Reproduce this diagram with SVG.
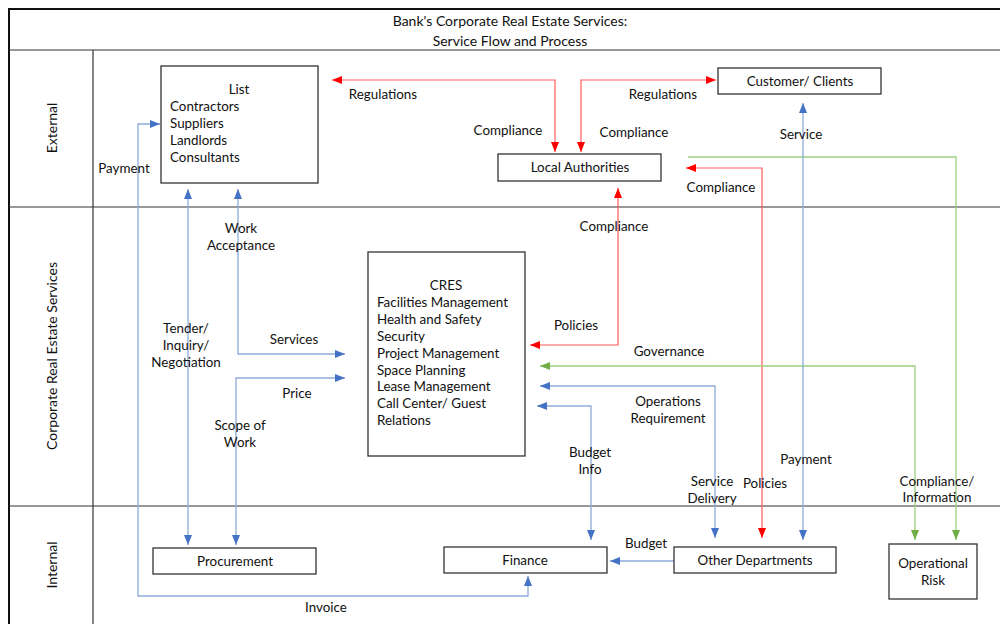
<svg xmlns="http://www.w3.org/2000/svg" width="1000" height="624" viewBox="0 0 1000 624">
<style>
text{font-family:Lato,"Liberation Sans",sans-serif;font-size:13.4px;fill:#111}
.c{text-anchor:middle}
.t{font-size:14px}
.box{fill:#fff;stroke:#333;stroke-width:1.3}
.lane{stroke:#333;stroke-width:1.2;fill:none}
.b{fill:none;stroke:#8eaadb;stroke-width:1.3}
.r{fill:none;stroke:#ff5a5a;stroke-width:1.2}
.g{fill:none;stroke:#9fcf7f;stroke-width:1.3}
</style>
<defs>
<marker id="ab" markerUnits="userSpaceOnUse" markerWidth="10" markerHeight="10" viewBox="0 0 10 10" refX="10" refY="5" orient="auto-start-reverse"><path d="M0,1 L10,5 L0,9 Z" fill="#4472c4"/></marker>
<marker id="ar" markerUnits="userSpaceOnUse" markerWidth="10" markerHeight="10" viewBox="0 0 10 10" refX="10" refY="5" orient="auto-start-reverse"><path d="M0,1 L10,5 L0,9 Z" fill="#ff0000"/></marker>
<marker id="ag" markerUnits="userSpaceOnUse" markerWidth="10" markerHeight="10" viewBox="0 0 10 10" refX="10" refY="5" orient="auto-start-reverse"><path d="M0,1 L10,5 L0,9 Z" fill="#70ad47"/></marker>
</defs>
<rect width="1000" height="624" fill="#fff"/>
<g id="frame">
<rect x="9" y="9" width="1010" height="640" fill="none" stroke="#111" stroke-width="2"/>
<line class="lane" x1="9" y1="50" x2="1000" y2="50"/>
<line class="lane" x1="93" y1="50" x2="93" y2="624"/>
<line class="lane" x1="9" y1="207" x2="1000" y2="207"/>
<line class="lane" x1="9" y1="506" x2="1000" y2="506"/>
<text class="c t" x="510" y="26">Bank's Corporate Real Estate Services:</text>
<text class="c t" x="510" y="46">Service Flow and Process</text>
<text class="c t" transform="translate(57,128) rotate(-90)">External</text>
<text class="c t" transform="translate(57,356) rotate(-90)">Corporate Real Estate Services</text>
<text class="c t" transform="translate(57,565) rotate(-90)">Internal</text>
</g>
<g id="connectors">
<path class="r" d="M332,80 H555 V152" marker-start="url(#ar)" marker-end="url(#ar)"/>
<path class="r" d="M581,152 V80 H716" marker-start="url(#ar)" marker-end="url(#ar)"/>
<path class="r" d="M762,538 V168 H686" marker-start="url(#ar)" marker-end="url(#ar)"/>
<path class="r" d="M618,188 V345 H530" marker-start="url(#ar)" marker-end="url(#ar)"/>
<path class="g" d="M688,157 H956 V540" marker-end="url(#ag)"/>
<path class="g" d="M540,366 H915 V540" marker-start="url(#ag)" marker-end="url(#ag)"/>
<path class="b" d="M803,103 V540" marker-start="url(#ab)" marker-end="url(#ab)"/>
<path class="b" d="M540,386 H715 V538" marker-start="url(#ab)" marker-end="url(#ab)"/>
<path class="b" d="M537,406 H591 V540" marker-start="url(#ab)" marker-end="url(#ab)"/>
<path class="b" d="M674,561 H610" marker-end="url(#ab)"/>
<path class="b" d="M160,124 H138 V596 H528 V576" marker-start="url(#ab)" marker-end="url(#ab)"/>
<path class="b" d="M188,189 V545" marker-start="url(#ab)" marker-end="url(#ab)"/>
<path class="b" d="M238,189 V354 H345" marker-start="url(#ab)" marker-end="url(#ab)"/>
<path class="b" d="M345,378 H236 V545" marker-start="url(#ab)" marker-end="url(#ab)"/>
<text class="c" x="383" y="99">Regulations</text>
<text class="c" x="508" y="135">Compliance</text>
<text class="c" x="663" y="99">Regulations</text>
<text class="c" x="634" y="137">Compliance</text>
<text class="c" x="721" y="192">Compliance</text>
<text class="c" x="765" y="488">Policies</text>
<text class="c" x="614" y="231">Compliance</text>
<text class="c" x="576" y="330">Policies</text>
<text class="c" x="669" y="356">Governance</text>
<text class="c" x="937" y="486">Compliance/</text>
<text class="c" x="937" y="502">Information</text>
<text class="c" x="801" y="139">Service</text>
<text class="c" x="806" y="464">Payment</text>
<text class="c" x="668" y="406">Operations</text>
<text class="c" x="668" y="423">Requirement</text>
<text class="c" x="712" y="486">Service</text>
<text class="c" x="712" y="503">Delivery</text>
<text class="c" x="590" y="457">Budget</text>
<text class="c" x="590" y="474">Info</text>
<text class="c" x="646" y="548">Budget</text>
<text class="c" x="124" y="173">Payment</text>
<text class="c" x="326" y="612">Invoice</text>
<text class="c" x="186" y="333">Tender/</text>
<text class="c" x="186" y="350">Inquiry/</text>
<text class="c" x="186" y="367">Negotiation</text>
<text class="c" x="241" y="233">Work</text>
<text class="c" x="241" y="250">Acceptance</text>
<text class="c" x="294" y="344">Services</text>
<text class="c" x="297" y="398">Price</text>
<text class="c" x="240" y="430">Scope of</text>
<text class="c" x="240" y="447">Work</text>
</g>
<g id="list">
<rect class="box" x="161" y="66" width="157" height="117"/>
<text class="c" x="239" y="94">List</text>
<text x="170" y="111">Contractors</text>
<text x="170" y="128">Suppliers</text>
<text x="170" y="145">Landlords</text>
<text x="170" y="162">Consultants</text>
</g>
<g id="customer">
<rect class="box" x="718" y="68" width="163" height="26"/>
<text class="c" x="800" y="86">Customer/ Clients</text>
</g>
<g id="local-authorities">
<rect class="box" x="498" y="154" width="163" height="27"/>
<text class="c" x="580" y="172">Local Authorities</text>
</g>
<g id="cres">
<rect class="box" x="368" y="252" width="157" height="204"/>
<text class="c" x="446" y="290">CRES</text>
<text x="377" y="307">Facilities Management</text>
<text x="377" y="324">Health and Safety</text>
<text x="377" y="341">Security</text>
<text x="377" y="358">Project Management</text>
<text x="377" y="375">Space Planning</text>
<text x="377" y="391">Lease Management</text>
<text x="377" y="408">Call Center/ Guest</text>
<text x="377" y="425">Relations</text>
</g>
<g id="procurement">
<rect class="box" x="153" y="548" width="163" height="26"/>
<text class="c" x="235" y="566">Procurement</text>
</g>
<g id="finance">
<rect class="box" x="444" y="547" width="163" height="26"/>
<text class="c" x="525" y="565">Finance</text>
</g>
<g id="other-departments">
<rect class="box" x="674" y="547" width="162" height="26"/>
<text class="c" x="755" y="565">Other Departments</text>
</g>
<g id="operational-risk">
<rect class="box" x="889" y="544" width="88" height="55"/>
<text class="c" x="933" y="568">Operational</text>
<text class="c" x="933" y="585">Risk</text>
</g>
</svg>
